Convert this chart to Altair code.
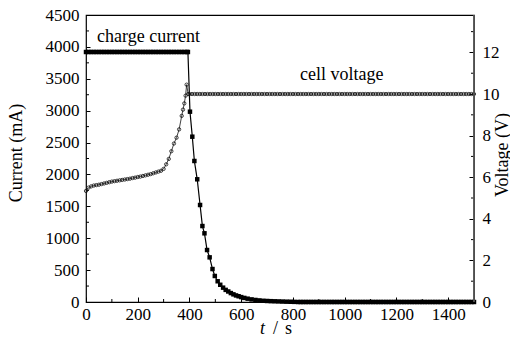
import altair as alt
import pandas as pd

# ---------------- data ----------------
cur_t = [0, 10, 20, 30, 40, 50, 60, 70, 80, 90, 100, 110, 120, 130, 140, 150, 160, 170, 180, 190,
         200, 210, 220, 230, 240, 250, 260, 270, 280, 290, 300, 310, 320, 330, 340, 350, 360, 370, 380, 390,
         394, 402, 411, 419, 430, 441, 450, 458, 468, 478, 489, 498, 509, 519, 530, 540, 550, 560, 570, 580,
         590, 600, 612, 625, 640, 655, 670, 685, 700, 715, 730, 745, 760, 775, 790, 805,
         820, 830, 840, 850, 860, 870, 880, 890, 900, 910, 920, 930, 940, 950, 960, 970, 980, 990,
         1000, 1010, 1020, 1030, 1040, 1050, 1060, 1070, 1080, 1090, 1100, 1110, 1120, 1130, 1140, 1150,
         1160, 1170, 1180, 1190, 1200, 1210, 1220, 1230, 1240, 1250, 1260, 1270, 1280, 1290, 1300, 1310,
         1320, 1330, 1340, 1350, 1360, 1370, 1380, 1390, 1400, 1410, 1420, 1430, 1440, 1450, 1460, 1470,
         1480, 1490, 1500]
cur_ma = [3920, 3920, 3920, 3920, 3920, 3920, 3920, 3920, 3920, 3920, 3920, 3920, 3920, 3920, 3920, 3920,
          3920, 3920, 3920, 3920, 3920, 3920, 3920, 3920, 3920, 3920, 3920, 3920, 3920, 3920, 3920, 3920,
          3920, 3920, 3920, 3920, 3920, 3920, 3920, 3920,
          3920, 2984, 2592, 2211, 1924, 1521, 1191, 1077, 815, 700, 517, 408, 325, 270, 225, 190, 165, 140,
          120, 103, 90, 77, 64, 52, 41, 32, 25, 19, 16, 13, 11, 9, 7, 5, 4, 2,
          0, 0, 0, 0, 0, 0, 0, 0, 0, 0, 0, 0, 0, 0, 0, 0, 0, 0,
          0, 0, 0, 0, 0, 0, 0, 0, 0, 0, 0, 0, 0, 0, 0, 0,
          0, 0, 0, 0, 0, 0, 0, 0, 0, 0, 0, 0, 0, 0, 0, 0,
          0, 0, 0, 0, 0, 0, 0, 0, 0, 0, 0, 0, 0, 0, 0, 0,
          0, 0, 0]

volt_t = [0, 10, 20, 30, 40, 50, 60, 70, 80, 90, 100, 110, 120, 130, 140, 150, 160, 170, 180, 190,
          200, 210, 220, 230, 240, 250, 260, 270, 280, 290, 300, 310, 320, 330, 340, 350, 360, 370, 375,
          380, 385, 389, 395,
          400, 410, 420, 430, 440, 450, 460, 470, 480, 490, 500, 510, 520, 530, 540, 550, 560, 570, 580, 590,
          600, 610, 620, 630, 640, 650, 660, 670, 680, 690, 700, 710, 720, 730, 740, 750, 760, 770, 780, 790,
          800, 810, 820, 830, 840, 850, 860, 870, 880, 890, 900, 910, 920, 930, 940, 950, 960, 970, 980, 990,
          1000, 1010, 1020, 1030, 1040, 1050, 1060, 1070, 1080, 1090, 1100, 1110, 1120, 1130, 1140, 1150,
          1160, 1170, 1180, 1190, 1200, 1210, 1220, 1230, 1240, 1250, 1260, 1270, 1280, 1290, 1300, 1310,
          1320, 1330, 1340, 1350, 1360, 1370, 1380, 1390, 1400, 1410, 1420, 1430, 1440, 1450, 1460, 1470,
          1480, 1490, 1500]
volt_v = [5.34, 5.50, 5.56, 5.60, 5.62, 5.64, 5.67, 5.70, 5.73, 5.76, 5.79, 5.81, 5.83, 5.85, 5.87, 5.89,
          5.91, 5.93, 5.96, 5.98, 6.01, 6.03, 6.06, 6.09, 6.12, 6.15, 6.19, 6.23, 6.27, 6.31, 6.40, 6.62,
          6.88, 7.25, 7.62, 7.90, 8.30, 8.95, 9.25, 9.55, 9.92, 10.45, 10.00,
          10.0, 10.0, 10.0, 10.0, 10.0, 10.0, 10.0, 10.0, 10.0, 10.0, 10.0, 10.0, 10.0, 10.0, 10.0, 10.0,
          10.0, 10.0, 10.0, 10.0, 10.0, 10.0, 10.0, 10.0, 10.0, 10.0, 10.0, 10.0, 10.0, 10.0, 10.0, 10.0,
          10.0, 10.0, 10.0, 10.0, 10.0, 10.0, 10.0, 10.0, 10.0, 10.0, 10.0, 10.0, 10.0, 10.0, 10.0, 10.0,
          10.0, 10.0, 10.0, 10.0, 10.0, 10.0, 10.0, 10.0, 10.0, 10.0, 10.0, 10.0, 10.0, 10.0, 10.0, 10.0,
          10.0, 10.0, 10.0, 10.0, 10.0, 10.0, 10.0, 10.0, 10.0, 10.0, 10.0, 10.0, 10.0, 10.0, 10.0, 10.0,
          10.0, 10.0, 10.0, 10.0, 10.0, 10.0, 10.0, 10.0, 10.0, 10.0, 10.0, 10.0, 10.0, 10.0, 10.0, 10.0,
          10.0, 10.0, 10.0, 10.0, 10.0, 10.0, 10.0, 10.0, 10.0, 10.0, 10.0, 10.0, 10.0, 10.0, 10.0]

x_major = [0, 200, 400, 600, 800, 1000, 1200, 1400]
x_minor = [100, 300, 500, 700, 900, 1100, 1300]
yl_major = [0, 500, 1000, 1500, 2000, 2500, 3000, 3500, 4000, 4500]
yl_minor = [250, 750, 1250, 1750, 2250, 2750, 3250, 3750, 4250]
yr_major = [0, 2, 4, 6, 8, 10, 12]
yr_minor = [1, 3, 5, 7, 9, 11, 13]

cur_df = pd.DataFrame({"t": cur_t, "current": cur_ma})
volt_df = pd.DataFrame({"t": volt_t, "voltage": volt_v})

FONT = "Liberation Serif"
W, H = 388, 287
xscale = alt.Scale(domain=[0, 1500], nice=False, zero=False)
yl_scale = alt.Scale(domain=[0, 4500], nice=False, zero=False)
yr_scale = alt.Scale(domain=[0, 13.8], nice=False, zero=False)


def make_axis(orient, values, size, pad):
    return alt.Axis(orient=orient, values=values, tickSize=size, offset=-size, domain=False,
                    grid=False, title=None, ticks=True, tickColor="black", tickWidth=1,
                    labelFlush=False, labelOverlap=False, format="d",
                    labelFont=FONT, labelFontSize=17, labelColor="black", labelPadding=pad)


X_AXIS = make_axis("bottom", x_major, 5, 4)
YL_AXIS = make_axis("left", yl_major, 4, 7)
YR_AXIS = make_axis("right", yr_major, 5, 8)

cur_line = alt.Chart(cur_df).mark_line(
    color="black", strokeWidth=1.2,
    point=alt.OverlayMarkDef(shape="square", filled=True, size=20, color="black"),
).encode(
    x=alt.X("t:Q", scale=xscale, axis=X_AXIS),
    y=alt.Y("current:Q", scale=yl_scale, axis=YL_AXIS),
)
yl_minor_ticks = alt.Chart(pd.DataFrame({"v": yl_minor})).mark_rule(
    color="black", strokeWidth=1
).encode(
    y=alt.Y("v:Q", scale=yl_scale, axis=YL_AXIS),
    x=alt.value(0), x2=alt.value(3),
)
cur = alt.layer(cur_line, yl_minor_ticks)

volt_line = alt.Chart(volt_df).mark_line(
    color="#111111", strokeWidth=0.8,
    point=alt.OverlayMarkDef(shape="circle", filled=False, size=11, stroke="#111111",
                             strokeWidth=0.8),
).encode(
    x=alt.X("t:Q", scale=xscale, axis=X_AXIS),
    y=alt.Y("voltage:Q", scale=yr_scale, axis=YR_AXIS),
)
yr_minor_ticks = alt.Chart(pd.DataFrame({"v": yr_minor})).mark_rule(
    color="black", strokeWidth=1
).encode(
    y=alt.Y("v:Q", scale=yr_scale, axis=YR_AXIS),
    x=alt.value(W), x2=alt.value(W - 3),
)
volt = alt.layer(volt_line, yr_minor_ticks)

x_minor_ticks = alt.Chart(pd.DataFrame({"v": x_minor})).mark_rule(
    color="black", strokeWidth=1
).encode(
    x=alt.X("v:Q", scale=xscale, axis=X_AXIS),
    y=alt.value(H), y2=alt.value(H - 3),
)

one = alt.Data(values=[{}])

# right frame edge drawn a little greyer and heavier, as in the reference
right_edge = alt.Chart(one).mark_rule(color="#555555", strokeWidth=1.8).encode(
    x=alt.value(W), y=alt.value(0), y2=alt.value(H)
)


def label(text, x, y, size=18, align="left", angle=0, style="normal"):
    return alt.Chart(one).mark_text(
        text=text, font=FONT, fontSize=size, color="black", align=align,
        baseline="alphabetic", angle=angle, fontStyle=style,
    ).encode(x=alt.value(x), y=alt.value(y))


texts = [
    label("charge current", 11, 27),
    label("cell voltage", 214, 64.5),
    label("t", 176.5, 319, align="center", style="italic"),
    label("/", 189.5, 319, align="center"),
    label("s", 202.5, 319, align="center"),
    label("Current (mA)", -64, 138, align="center", angle=270),
    label("Voltage (V)", 422, 140, align="center", angle=270),
]

chart = alt.layer(cur, volt, x_minor_ticks, right_edge, *texts).resolve_scale(
    y="independent"
).properties(
    width=W, height=H,
    autosize=alt.AutoSizeParams(type="none"),
    padding={"left": 78, "top": 7, "right": 36, "bottom": 37},
).configure_view(stroke="black", strokeWidth=1.2).configure_axis(
    labelFont=FONT, labelFontSize=17, labelColor="black"
).configure_text(font=FONT)

chart.save("out.html", embed_options={"renderer": "svg", "actions": False})
